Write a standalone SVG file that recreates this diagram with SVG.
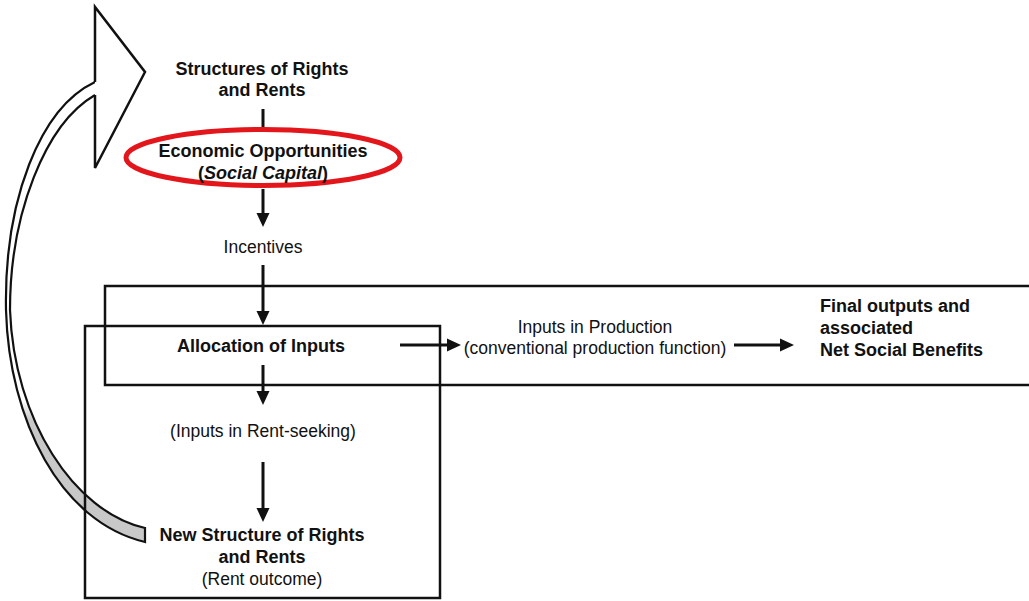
<svg xmlns="http://www.w3.org/2000/svg" width="1029" height="601" viewBox="0 0 1029 601">
<style>
.b{font-family:"Liberation Sans",Arial,sans-serif;font-size:18px;font-weight:bold;fill:#111;text-anchor:middle}
.n{font-family:"Liberation Sans",Arial,sans-serif;font-size:17.5px;fill:#111;text-anchor:middle}
.l{text-anchor:start}
.box{fill:none;stroke:#111;stroke-width:2.5}
.con{stroke:#111;stroke-width:3;fill:none}
</style>
<defs>
<marker id="ah" markerUnits="userSpaceOnUse" markerWidth="15" markerHeight="14" refX="6" refY="7" orient="auto">
<path d="M0,0.5 L14,7 L0,13.5 z" fill="#111"/>
</marker>
<linearGradient id="shade" gradientUnits="userSpaceOnUse" x1="0" y1="400" x2="0" y2="420">
<stop offset="0" stop-color="#fff"/>
<stop offset="1" stop-color="#c8c8c8"/>
</linearGradient>
</defs>
<rect width="1029" height="601" fill="#fff"/>

<g id="feedback-arrow">
<path d="M95,82 C40,108 4,200 6,310 C9,420 60,522 145,542 L145,528 C74,512 14,420 10,310 C10,214 45,124 95,95" fill="url(#shade)" stroke="#111" stroke-width="2.2" stroke-linejoin="miter"/>
<path d="M95,82 L95,7 L145,72 L95,168 L95,95" fill="#fff" stroke="#111" stroke-width="2.5" stroke-linejoin="miter"/>
</g>

<g id="box-production">
<rect class="box" x="105" y="286" width="940" height="99"/>
</g>
<g id="box-rent">
<rect class="box" x="85" y="326" width="355" height="272"/>
</g>

<g id="connectors">
<line class="con" x1="263" y1="109" x2="263" y2="128"/>
<line class="con" x1="263" y1="189" x2="263" y2="219" marker-end="url(#ah)"/>
<line class="con" x1="263" y1="265" x2="263" y2="317" marker-end="url(#ah)"/>
<line class="con" x1="263" y1="365" x2="263" y2="397" marker-end="url(#ah)"/>
<line class="con" x1="263" y1="462" x2="263" y2="514" marker-end="url(#ah)"/>
<line class="con" x1="400" y1="345" x2="453" y2="345" marker-end="url(#ah)" stroke-width="2.5"/>
<line class="con" x1="734" y1="345" x2="786" y2="345" marker-end="url(#ah)" stroke-width="2.5"/>
</g>

<g id="structures">
<text class="b" x="262" y="75">Structures of Rights</text>
<text class="b" x="262" y="96">and Rents</text>
</g>

<g id="opportunities">
<ellipse cx="263" cy="157.5" rx="137" ry="28" fill="none" stroke="#e3161b" stroke-width="5"/>
<text class="b" x="263" y="157">Economic Opportunities</text>
<text class="b" x="263" y="179">(<tspan font-style="italic">Social Capital</tspan>)</text>
</g>

<g id="incentives">
<text class="n" x="263" y="253">Incentives</text>
</g>

<g id="allocation">
<text class="b" x="261" y="352">Allocation of Inputs</text>
</g>

<g id="rent-seeking">
<text class="n" x="263" y="437">(Inputs in Rent-seeking)</text>
</g>

<g id="new-structure">
<text class="b" x="262" y="541">New Structure of Rights</text>
<text class="b" x="262" y="563">and Rents</text>
<text class="n" x="262" y="585">(Rent outcome)</text>
</g>

<g id="production">
<text class="n" x="595" y="333">Inputs in Production</text>
<text class="n" x="595" y="354">(conventional production function)</text>
</g>

<g id="outputs">
<text class="b l" x="820" y="312">Final outputs and</text>
<text class="b l" x="820" y="334">associated</text>
<text class="b l" x="820" y="356">Net Social Benefits</text>
</g>
</svg>
